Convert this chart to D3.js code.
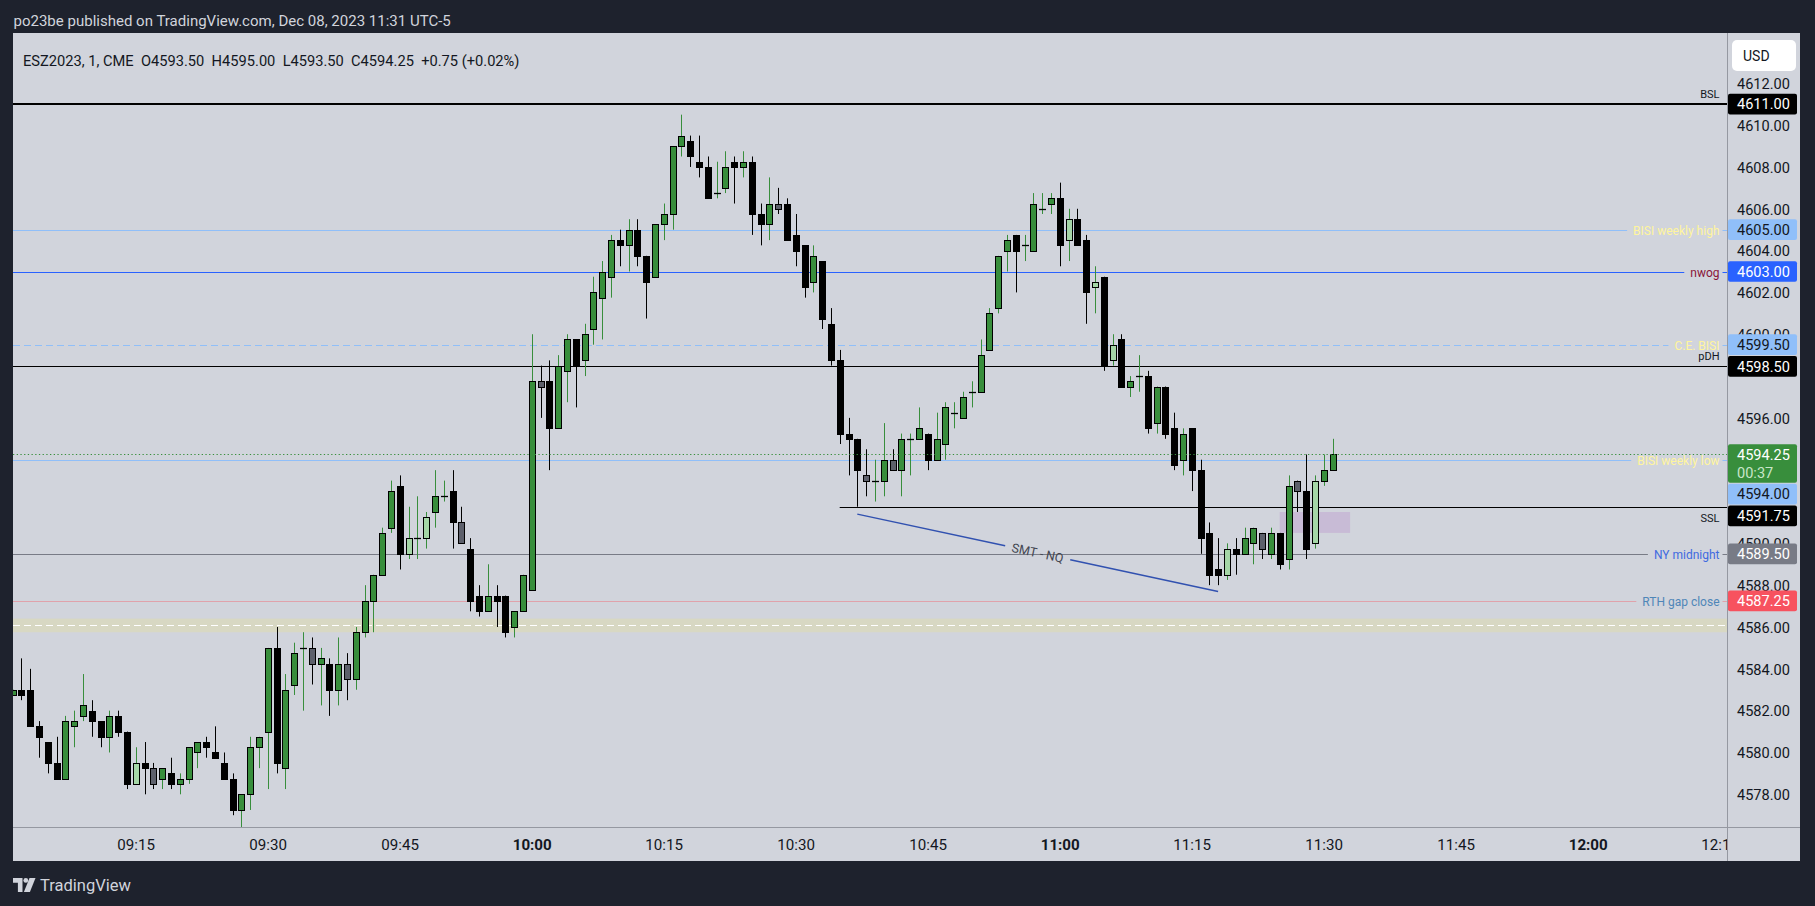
<!DOCTYPE html>
<html><head><meta charset="utf-8">
<script src="https://cdn.jsdelivr.net/npm/d3@7"></script>
<style>
html,body{margin:0;padding:0;background:#1e222d;overflow:hidden;}
svg{display:block;}
text{font-family:Roboto,"Noto Sans",sans-serif;}
</style></head><body>
<svg id="chart" width="1815" height="906"></svg>
<script>
// ---------------- DATA ----------------
const publishInfo = "po23be published on TradingView.com, Dec 08, 2023 11:31 UTC-5";
const symbolInfo = "ESZ2023, 1, CME";
const currency = "USD";
const startMinute = 9 * 60 + 1;   // first bar 09:01
const countdown = "00:37";

const opens = [
 4582.75,4583,4583,4581.25,4580.5,4579.5,4578.75,4581.25,4581.75,4582,
 4581.5,4580.75,4581.75,4581,4578.5,4579.5,4579.25,4578.75,4579,4578.5,
 4578.75,4580,4580.5,4580,4579.5,4578.75,4577.25,4578,4580.25,4581,
 4585,4579.25,4583.25,4585,4585,4584.25,4584.25,4583,4584.25,4583.5,
 4585.75,4587.25,4588.5,4590.75,4592.75,4589.5,4590.25,4590.25,4591.5,4592.25,
 4592.5,4591,4589.75,4587.5,4586.75,4587.5,4587.5,4586,4586.75,4587.75,
 4597.75,4597.75,4595.5,4598.25,4599.75,4598.75,4600.25,4601.75,4602.75,4604.5,
 4604.25,4605,4603.75,4602.75,4605.25,4605.75,4609,4609.25,4608.25,4608,
 4606.75,4607,4608.25,4608,4608.25,4605.75,4605.25,4606.25,4606.25,4604.75,
 4604.25,4602.5,4603.5,4600.5,4598.75,4595.25,4595,4593.25,4593,4593,
 4594,4593.5,4595,4595,4595.25,4594,4594.75,4596.25,4596,4597.25,
 4597.25,4599.25,4601.25,4604,4604.75,4604.25,4604,4606,4606.25,4606.5,
 4604.5,4605.5,4604.5,4602.25,4602.75,4598.75,4599.75,4597.5,4598,4598,
 4595.75,4597.5,4595.5,4594,4595.5,4593.5,4590.5,4588.75,4588.5,4589.75,
 4589.5,4590,4590.5,4589.5,4590.5,4589.25,4593,4592.5,4590,4593,4593.5];
const highs = [
 4583,4584.5,4584,4581.5,4580.5,4580.75,4581.75,4582,4583.75,4582.5,
 4581.5,4582,4582,4581,4580.25,4580.5,4579.5,4579.25,4579.75,4579,
 4580.25,4580.5,4580.75,4581.25,4580,4579,4578,4580.75,4580.75,4585,
 4586,4583.75,4585.25,4585.75,4585.5,4585,4584.5,4585.5,4584.75,4586,
 4588,4588.5,4590.75,4593,4593.25,4591.75,4592.25,4591.5,4593.5,4593,
 4593.5,4591.75,4590.25,4588,4589,4588,4587.5,4586.75,4588.5,4600,
 4598.5,4598.75,4599,4600,4599.75,4600.5,4602.75,4603.5,4604.75,4605,
 4605.5,4605.5,4603.75,4605.25,4606.25,4609,4610.5,4609.5,4609.5,4608.5,
 4608.25,4608.75,4608.5,4608.75,4608.5,4606.25,4607.5,4607,4606.5,4605.75,
 4604.25,4604.25,4603.5,4601.25,4599.25,4596,4595,4594.5,4594,4595.75,
 4594.5,4595.25,4595.25,4596.5,4595.25,4596.25,4596.75,4596.75,4597.25,4597.75,
 4599.75,4601.25,4603.75,4604.75,4604.75,4604.75,4606.75,4606.75,4606.75,4607.25,
 4606,4606,4604.75,4603.25,4602.75,4600,4600,4598,4599,4598.25,
 4597.5,4597.5,4596.25,4595.5,4595.5,4594,4591,4590.25,4590,4590.25,
 4590.75,4590.75,4590.5,4590.75,4590.5,4593.25,4593,4594.25,4593.25,4594.25,4595];
const lows = [
 4582.75,4582.5,4581.25,4579.75,4579,4578.75,4578.75,4580.25,4581.5,4580.75,
 4580.25,4580,4580.75,4578.25,4578.5,4578,4578.25,4578.25,4578.25,4578,
 4578.5,4579.25,4579.75,4579.75,4578.75,4577,4576.25,4577.25,4579.25,4578.25,
 4579,4578.25,4582.75,4582,4583.25,4582.25,4581.75,4582.25,4582.5,4583,
 4585.5,4585.75,4588.5,4590.5,4588.75,4589.25,4589.25,4589.75,4590.75,4592,
 4589.75,4590,4586.75,4586.5,4586.75,4586,4585.5,4585.5,4586.75,4587.75,
 4596,4593.5,4595.5,4596.75,4596.5,4598,4599.5,4599.75,4601.75,4603.25,
 4603,4603.25,4600.75,4602.75,4604.5,4605,4608.5,4608,4607.5,4606.5,
 4606.5,4606.75,4606.25,4607.5,4604.75,4604.25,4604.5,4605.75,4604.5,4603.25,
 4601.75,4602,4600.25,4598.5,4594.75,4593.25,4591.75,4592.25,4592,4592.25,
 4593.5,4592.25,4593.25,4595,4593.5,4594,4594,4595.5,4596,4596.5,
 4597.25,4599.25,4601,4603,4602,4603.5,4604,4605.75,4605.75,4603.25,
 4603.5,4604.25,4600.5,4601,4598.25,4598.5,4597.5,4597,4597.25,4595.25,
 4595.25,4595,4593.5,4593.25,4592.5,4589.5,4588,4588,4588.25,4588.5,
 4589.5,4589,4589.25,4589.25,4588.75,4588.75,4591.5,4589.25,4589.75,4592.75,4593.5];
const closes = [
 4583,4582.75,4581.25,4580.75,4579.5,4578.75,4581.5,4581.5,4582.25,4581.5,
 4580.75,4581.75,4581,4578.5,4579.5,4579.25,4578.5,4579.25,4578.5,4578.75,
 4580.25,4580.5,4580.25,4579.75,4578.75,4577.25,4578,4580.25,4580.75,4585,
 4579.5,4583,4584.75,4585,4584.25,4584.5,4583,4584.25,4583.5,4585.75,
 4587.25,4588.5,4590.5,4592.5,4589.5,4590.25,4590.25,4591.25,4592.25,4592.25,
 4591,4590,4587.25,4586.75,4587.5,4587.25,4585.75,4586.75,4588.5,4597.75,
 4597.5,4595.5,4598.5,4599.75,4598.5,4600,4602,4603,4604.5,4604.25,
 4605,4603.75,4602.5,4605.25,4605.75,4609,4609.5,4608.5,4608,4606.5,
 4606.75,4608,4608,4608.25,4605.75,4605.25,4606.25,4606,4604.5,4604,
 4602.25,4603.75,4600.75,4598.75,4595.25,4595,4593.5,4593,4593,4594,
 4593.5,4595,4595,4595.5,4594,4595,4596.5,4596.25,4597,4597.25,
 4599,4601,4603.75,4604.5,4604,4604.25,4606.25,4606,4606.5,4604.25,
 4605.5,4604.25,4602,4602.5,4598.5,4599.5,4597.5,4597.75,4598,4595.5,
 4597.5,4595.25,4593.75,4595.25,4593.5,4590.25,4588.5,4588.5,4589.75,4589.5,
 4590.25,4590.75,4589.75,4590.5,4589,4592.75,4592.5,4589.75,4593,4593.5,4594.25];

// bars recoloured by an indicator
const lightUpBars = [14,45,47,120,123,125,138,148];
const grayDownBars = [16,34,38,51,60,87,97,100,142,146];

const priceTicks = d3.range(4578, 4613, 2);
const timeTicks = d3.range(9*60+15, 12*60+16, 15);

const levelPrices = [4611, 4605, 4603, 4599.5, 4598.5, 4594, 4591.75, 4589.5, 4587.25];
const levelNames  = ["BSL","BISI weekly high","nwog","C.E. BISI","pDH","BISI weekly low","SSL","NY midnight","RTH gap close"];
const sslStartBar = 94;

const bandRange = [4585.75, 4586.4];
const boxBars = [144, 152];
const boxPrices = [4590.5, 4591.5];

const smtText = "SMT - NQ";
const smtStart = [96, 4591.4];   // [bar index, price]
const smtEnd   = [137, 4587.7];

// ---------------- STYLE ----------------
const W = 1815, H = 906;
const pane = {l: 13, t: 33, r: 1727, b: 827};
const axisRight = 1800, axisBottom = 861;
const C = {
  dark: '#1e222d', pane: '#d1d4dc', sep: '#9598a1', text: '#131722',
  up: '#388e3c', down: '#000000', light: '#a5d6a7', gray: '#5d606b'
};
const levelStyle = {
  "BSL":             {line:'#000', w:2,  text:'#131722', pos:'above', box:'#000', boxText:'#fff'},
  "BISI weekly high":{line:'#90bff9', w:1, text:'#fff59d', pos:'middle', box:'#90bff9', boxText:'#131722'},
  "nwog":            {line:'#2962ff', w:1, text:'#8a1538', pos:'middle', box:'#2962ff', boxText:'#fff'},
  "C.E. BISI":       {line:'#90bff9', w:1, dash:'7,4', text:'#fff59d', pos:'middle', box:'#90bff9', boxText:'#131722'},
  "pDH":             {line:'#000', w:1, text:'#131722', pos:'above', box:'#000', boxText:'#fff'},
  "BISI weekly low": {line:'#90bff9', w:1, text:'#fff59d', pos:'middle', box:'#90bff9', boxText:'#131722'},
  "SSL":             {line:'#000', w:1, text:'#131722', pos:'below', box:'#000', boxText:'#fff'},
  "NY midnight":     {line:'#787b86', w:1, text:'#3f6ae0', pos:'middle', box:'#787b86', boxText:'#fff'},
  "RTH gap close":   {line:'#e0a2ab', w:1, text:'#4f86b8', pos:'middle', box:'#f7525f', boxText:'#fff'}
};

// ---------------- SCALES ----------------
const barStep = 8.8;
const x = d3.scaleLinear().domain([startMinute, startMinute + 200]).range([12.5, 12.5 + 200 * barStep]);
const xb = i => x(startMinute + i);
const y = d3.scaleLinear().domain([4578, 4612]).range([794.3, 83.3]);
const crisp = v => Math.round(v) + 0.5;

const svg = d3.select('#chart');
function fit(sel, target) {
  const n = sel.node(); const len = n.getComputedTextLength();
  const fs = parseFloat(sel.attr('font-size'));
  const nf = fs * target / len; sel.attr('font-size', nf); return nf;
}

svg.append('rect').attr('width', W).attr('height', H).attr('fill', C.dark);
svg.append('rect').attr('x', pane.l).attr('y', pane.t)
  .attr('width', axisRight - pane.l).attr('height', axisBottom - pane.t).attr('fill', C.pane);

svg.append('defs').append('clipPath').attr('id', 'pclip').append('rect')
  .attr('x', pane.l).attr('y', pane.t).attr('width', pane.r - pane.l).attr('height', pane.b - pane.t);
const g = svg.append('g').attr('clip-path', 'url(#pclip)');

// band
g.append('rect').attr('x', pane.l).attr('width', pane.r - pane.l)
  .attr('y', y(bandRange[1])).attr('height', y(bandRange[0]) - y(bandRange[1])).attr('fill', '#d8d8c3');
g.append('line').attr('x1', pane.l).attr('x2', pane.r)
  .attr('y1', crisp(y(d3.mean(bandRange)))).attr('y2', crisp(y(d3.mean(bandRange))))
  .attr('stroke', '#fff').attr('stroke-width', 1.2).attr('stroke-dasharray', '7,4');

// purple box
g.append('rect').attr('x', xb(boxBars[0])).attr('width', xb(boxBars[1]) - xb(boxBars[0]))
  .attr('y', y(boxPrices[1])).attr('height', y(boxPrices[0]) - y(boxPrices[1])).attr('fill', '#c8bbd6');

// level lines + labels
const labelG = svg.append('g');
levelPrices.forEach((p, k) => {
  const name = levelNames[k], st = levelStyle[name];
  const ly = st.w === 2 ? Math.round(y(p)) : crisp(y(p));
  const x0 = name === 'SSL' ? xb(sslStartBar) : pane.l;
  const t = labelG.append('text').text(name).attr('fill', st.text)
    .attr('font-size', 12).attr('text-anchor', 'end').attr('x', 1719.5);
  if (st.pos === 'middle') {
    t.attr('y', ly + 4);
    const bb = t.node().getBBox();
    [[x0, bb.x - 6], [1722.5, pane.r]].forEach(s => {
      g.append('line').attr('x1', s[0]).attr('x2', s[1]).attr('y1', ly).attr('y2', ly)
        .attr('stroke', st.line).attr('stroke-width', st.w).attr('stroke-dasharray', st.dash || null);
    });
  } else {
    t.attr('font-size', 11).attr('y', st.pos === 'above' ? ly - 6.5 : ly + 14.5);
    g.append('line').attr('x1', x0).attr('x2', pane.r).attr('y1', ly).attr('y2', ly)
      .attr('stroke', st.line).attr('stroke-width', st.w);
  }
});

// SMT annotation
{
  const ax = xb(smtStart[0]), ay = y(smtStart[1]), bx = xb(smtEnd[0]), by = y(smtEnd[1]);
  const ang = Math.atan2(by - ay, bx - ax) * 180 / Math.PI;
  const mx = (ax + bx) / 2, my = (ay + by) / 2;
  const t = svg.append('text').text(smtText).attr('font-size', 12.5).attr('fill', '#434651')
    .attr('text-anchor', 'middle').attr('x', 0).attr('y', 4.5)
    .attr('transform', `translate(${mx},${my}) rotate(${ang})`);
  const half = t.node().getComputedTextLength() / 2 + 7;
  const L = Math.hypot(bx - ax, by - ay), f = half / L;
  [[0, 0.5 - f], [0.5 + f, 1]].forEach(s => {
    g.append('line').attr('x1', ax + (bx - ax) * s[0]).attr('y1', ay + (by - ay) * s[0])
      .attr('x2', ax + (bx - ax) * s[1]).attr('y2', ay + (by - ay) * s[1])
      .attr('stroke', '#3151b0').attr('stroke-width', 1.4);
  });
}

// candles
const bars = opens.map((o, i) => ({i, o, h: highs[i], l: lows[i], c: closes[i]}));
const fillOf = d => lightUpBars.includes(d.i) ? C.light : grayDownBars.includes(d.i) ? C.gray : (d.c >= d.o ? C.up : C.down);
const cg = g.append('g');
cg.selectAll('line.wick').data(bars).join('line').attr('class', 'wick')
  .attr('x1', d => crisp(xb(d.i))).attr('x2', d => crisp(xb(d.i)))
  .attr('y1', d => y(d.h)).attr('y2', d => y(d.l))
  .attr('stroke', d => d.c >= d.o ? C.up : C.down).attr('stroke-width', 1);
cg.selectAll('rect.body').data(bars.filter(d => d.o !== d.c)).join('rect').attr('class', 'body')
  .attr('x', d => Math.round(xb(d.i)) - 2.5).attr('width', 6)
  .attr('y', d => Math.round(y(Math.max(d.o, d.c))) + 0.5)
  .attr('height', d => Math.max(1, Math.round(y(Math.min(d.o, d.c))) - Math.round(y(Math.max(d.o, d.c)))))
  .attr('fill', fillOf).attr('stroke', '#000').attr('stroke-width', 1);
cg.selectAll('line.doji').data(bars.filter(d => d.o === d.c)).join('line').attr('class', 'doji')
  .attr('x1', d => Math.round(xb(d.i)) - 3).attr('x2', d => Math.round(xb(d.i)) + 4)
  .attr('y1', d => crisp(y(d.o))).attr('y2', d => crisp(y(d.o)))
  .attr('stroke', '#000').attr('stroke-width', 1.3);

// last price dotted line
const last = bars[bars.length - 1], prev = bars[bars.length - 2];
g.append('line').attr('x1', pane.l).attr('x2', pane.r)
  .attr('y1', crisp(y(last.c))).attr('y2', crisp(y(last.c)))
  .attr('stroke', C.up).attr('stroke-width', 1).attr('stroke-dasharray', '1.3,2.4');

// separators
svg.append('line').attr('x1', pane.r + 0.5).attr('x2', pane.r + 0.5).attr('y1', pane.t).attr('y2', axisBottom)
  .attr('stroke', C.sep);
svg.append('line').attr('x1', pane.l).attr('x2', axisRight).attr('y1', pane.b + 0.5).attr('y2', pane.b + 0.5)
  .attr('stroke', C.sep);

// axis price boxes layout (collision avoidance)
const boxH = 20.7;
const axisBoxes = levelPrices.map((p, k) => ({p, st: levelStyle[levelNames[k]], h: boxH}))
  .concat([{p: last.c, st: {box: C.up, boxText: '#fff'}, h: 38.7, live: true}])
  .sort((a, b) => y(a.p) - y(b.p));
let prevBottom = -1e9;
axisBoxes.forEach(b => {
  b.top = Math.max(y(b.p) - boxH / 2, prevBottom + 1);
  prevBottom = b.top + b.h;
});
const covered = v => axisBoxes.some(b => y(v) > b.top + 3 && y(v) < b.top + b.h + 3);

// price axis
const probe = svg.append('text').text('4612.00').attr('font-size', 14);
const tickFs = fit(probe, 53); probe.remove();
const pAxis = svg.append('g').attr('transform', `translate(1737,0)`)
  .call(d3.axisRight(y).tickValues(priceTicks.filter(v => !covered(v))).tickSize(0).tickPadding(0)
    .tickFormat(d => d.toFixed(2)));
pAxis.select('.domain').remove();
pAxis.selectAll('text').attr('font-size', tickFs).attr('fill', C.text).attr('font-family', 'Roboto')
  .attr('dy', null).attr('y', tickFs * 0.36).attr('x', 0);

axisBoxes.forEach(b => {
  svg.append('rect').attr('x', pane.r + 1).attr('y', b.top).attr('width', 69).attr('height', b.h)
    .attr('rx', 2).attr('fill', b.st.box);
  svg.append('text').text(b.p.toFixed(2)).attr('x', 1737).attr('y', b.top + boxH / 2 + tickFs * 0.36)
    .attr('font-size', tickFs).attr('fill', b.st.boxText);
  if (b.live) svg.append('text').text(countdown).attr('x', 1737).attr('y', b.top + 28.7 + tickFs * 0.36)
    .attr('font-size', tickFs).attr('fill', '#c8e6c9');
});

// USD box
svg.append('rect').attr('x', 1732).attr('y', 40).attr('width', 64).attr('height', 31).attr('rx', 5)
  .attr('fill', '#ffffff');
svg.append('text').text(currency).attr('x', 1743).attr('y', 60.5).attr('font-size', 14).attr('fill', C.text);

// time axis
svg.append('defs').append('clipPath').attr('id', 'tclip').append('rect')
  .attr('x', pane.l).attr('y', pane.b).attr('width', pane.r - pane.l).attr('height', axisBottom - pane.b);
const probeT = svg.append('text').text('12:00').attr('font-size', 14).attr('font-weight', 'bold');
const timeFs = fit(probeT, 39); probeT.remove();
const fmt = m => String(Math.floor(m / 60)).padStart(2, '0') + ':' + String(m % 60).padStart(2, '0');
const tAxis = svg.append('g').attr('clip-path', 'url(#tclip)').append('g')
  .attr('transform', `translate(0,${pane.b})`)
  .call(d3.axisBottom(x).tickValues(timeTicks).tickSize(0).tickPadding(0).tickFormat(fmt));
tAxis.select('.domain').remove();
tAxis.selectAll('text').attr('font-size', timeFs).attr('fill', C.text).attr('font-family', 'Roboto')
  .attr('dy', null).attr('y', 17.3 + timeFs * 0.36)
  .attr('font-weight', d => d % 60 === 0 ? 'bold' : 'normal');

// legend
const chg = last.c - prev.c;
const legendStr = `${symbolInfo}  O${last.o.toFixed(2)}  H${last.h.toFixed(2)}  L${last.l.toFixed(2)}  C${last.c.toFixed(2)}  ${chg >= 0 ? '+' : ''}${chg.toFixed(2)} (${chg >= 0 ? '+' : ''}${(chg / prev.c * 100).toFixed(2)}%)`;
const leg = svg.append('text').text(legendStr).attr('x', 23).attr('y', 65.5).attr('font-size', 15)
  .attr('fill', C.text).style('white-space', 'pre');
fit(leg, 497);

// header title
const title = svg.append('text').text(publishInfo).attr('x', 13.5).attr('y', 25.5).attr('font-size', 15)
  .attr('fill', '#d1d4dc');
fit(title, 438);

// footer logo
const lg = svg.append('g').attr('fill', '#d1d4dc');
lg.append('path').attr('d', 'M13,878 h9.5 v14 h-4.6 v-9.2 h-4.9 z');
lg.append('circle').attr('cx', 25.8).attr('cy', 880.4).attr('r', 2.4);
lg.append('path').attr('d', 'M29.5,878 h6 l-5.6,14 h-6 z');
const tv = svg.append('text').text('TradingView').attr('x', 40).attr('y', 890.5).attr('font-size', 15)
  .attr('fill', '#d1d4dc');
fit(tv, 91);
</script>
</body></html>
